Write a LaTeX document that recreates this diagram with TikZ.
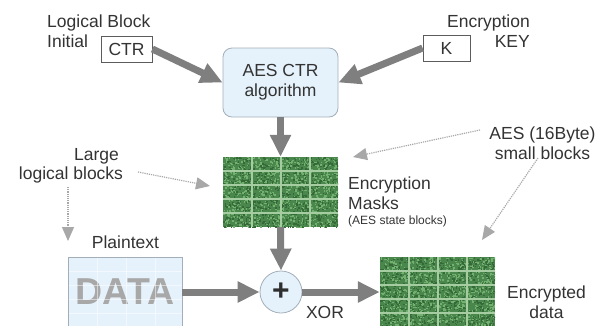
\documentclass[tikz,border=0pt]{standalone}
\usepackage{fontspec}
\setmainfont{Liberation Sans}
\usetikzlibrary{arrows.meta}
\definecolor{txt}{HTML}{333333}
\definecolor{arr}{HTML}{7F7F7F}
\definecolor{dotc}{HTML}{A8A8A8}
\definecolor{boxfill}{HTML}{E6F2FB}
\definecolor{boxline}{HTML}{A3AFB8}
\definecolor{gbase}{HTML}{4A874C}
\definecolor{glight}{HTML}{74B171}
\definecolor{gdark}{HTML}{356A38}
\definecolor{gline}{HTML}{A6CCA1}
\definecolor{datac}{HTML}{A8A8A8}
\newcommand{\greentex}[2]{%
  \begin{scope}
    \clip (#1,#2) rectangle ++(115,70);
    \fill[gbase] (#1,#2) rectangle ++(115,70);
    \foreach \k in {1,...,900}{
      \fill[glight] ({#1+115*rnd},{#2+70*rnd}) rectangle ++(1.5,1.5);
      \fill[gdark] ({#1+115*rnd},{#2+70*rnd}) rectangle ++(1.5,1.5);
    }
    \foreach \xx in {29,58,87} \draw[gline, line width=1.1pt] (#1+\xx,#2) -- ++(0,70);
    \foreach \yy in {14,28,42,56} \draw[gline, line width=1.1pt] (#1,#2+\yy) -- ++(115,0);
  \end{scope}}
\tikzset{
  lbl/.style={text=txt, inner sep=0pt, font=\fontsize{17.5}{20}\selectfont},
  smalllbl/.style={text=txt, inner sep=0pt, font=\fontsize{12}{14}\selectfont},
  smallbox/.style={draw=txt!80, line width=0.8pt, fill=white, inner sep=0pt, text=txt,
    font=\fontsize{17.5}{20}\selectfont},
  aesbox/.style={draw=boxline, line width=0.8pt, fill=boxfill, rounded corners=9pt,
    minimum width=115pt, minimum height=69pt, inner sep=0pt, align=center, text=txt,
    font=\fontsize{17.5}{20}\selectfont},
  greengrid/.style={minimum width=115pt, minimum height=70pt, inner sep=0pt},
  datablock/.style={fill=boxfill, draw=boxline, line width=0.8pt, minimum width=114pt,
    minimum height=70pt, inner sep=0pt, text=datac,
    font=\fontsize{37.5}{40}\selectfont\bfseries},
  dataline/.style={white, line width=1pt, opacity=0.5},
  xorc/.style={circle, fill=boxfill, draw=boxline, line width=0.8pt, minimum size=42pt,
    inner sep=0pt, text=txt!90!black, font=\fontsize{30}{30}\selectfont\bfseries},
  thick/.style={draw=arr, line width=7pt, -{Triangle[length=22pt,width=20pt]}},
  thin/.style={draw=dotc, line width=1.2pt, densely dotted, -{Triangle[length=14pt,width=12pt]}}
}
\begin{document}
\begin{tikzpicture}[x=1pt,y=-1pt]
\useasboundingbox (0,0) rectangle (605,325);
\pgfmathsetseed{42}
% top labels
\node[lbl, align=left, anchor=north west] (lbi) at (47,14.5) {Logical Block\\Initial};
\node[lbl, align=right, anchor=north east] (enck) at (530,14.7) {Encryption\\KEY};
\node[smallbox, minimum width=51pt, minimum height=26pt] (ctr) at (126.5,49) {CTR};
\node[smallbox, minimum width=47pt, minimum height=26pt] (k) at (446.5,48) {K};
\node[aesbox] (aes) at (280.5,82.5) {AES CTR\\algorithm};
% blocks
\greentex{223}{157}
\greentex{380}{257}
\node[greengrid] (masks) at (280.5,192) {};
\node[greengrid] (enc) at (437.5,292) {};
\node[datablock] (data) at (125,292) {DATA};
\foreach \xx in {97,126,155} \draw[dataline] (\xx,257.5) -- (\xx,326);
\foreach \yy in {271,285,299,313} \draw[dataline] (68.5,\yy) -- (181.5,\yy);
\node[xorc] (xor) at (281,292) {+};
% labels
\node[lbl, anchor=north west, align=left] (em) at (348,176.8) {Encryption\\Masks};
\node[smalllbl, anchor=base west] (asb) at (348,224.3) {(AES state blocks)};
\node[lbl, anchor=north, align=center] (aes16) at (542.5,126.5) {AES (16Byte)\\small blocks};
\node[lbl, anchor=base] (large) at (96.5,160.3) {Large};
\node[lbl, anchor=base] (lb) at (71,179.3) {logical blocks};
\node[lbl, anchor=base] (pt) at (125.5,248.3) {Plaintext};
\node[lbl, anchor=base] (xorl) at (325,318.3) {XOR};
\node[lbl, anchor=north, align=center] (ed) at (546.5,285.5) {Encrypted\\data};
% thick arrows
\draw[thick] (ctr.east) -- (aes.west);
\draw[thick] (k.west) -- (aes.east);
\draw[thick] (aes.south) -- (masks.north);
\draw[thick] (masks.south) -- (xor.north);
\draw[thick] (data.east) -- (xor.west);
\draw[thick] (xor.east) -- (enc.west);
% dotted arrows
\coordinate (s1) at (138,172);
\coordinate (t1) at (210,186);
\coordinate (s2) at (68,187);
\coordinate (t2) at (68,241);
\coordinate (s3) at (480,130);
\coordinate (t3) at (353,157);
\coordinate (s4) at (538,158);
\coordinate (t4) at (482,240);
\draw[thin] (s1) -- (t1);
\draw[thin] (s2) -- (t2);
\draw[thin] (s3) -- (t3);
\draw[thin] (s4) -- (t4);
\end{tikzpicture}
\end{document}
